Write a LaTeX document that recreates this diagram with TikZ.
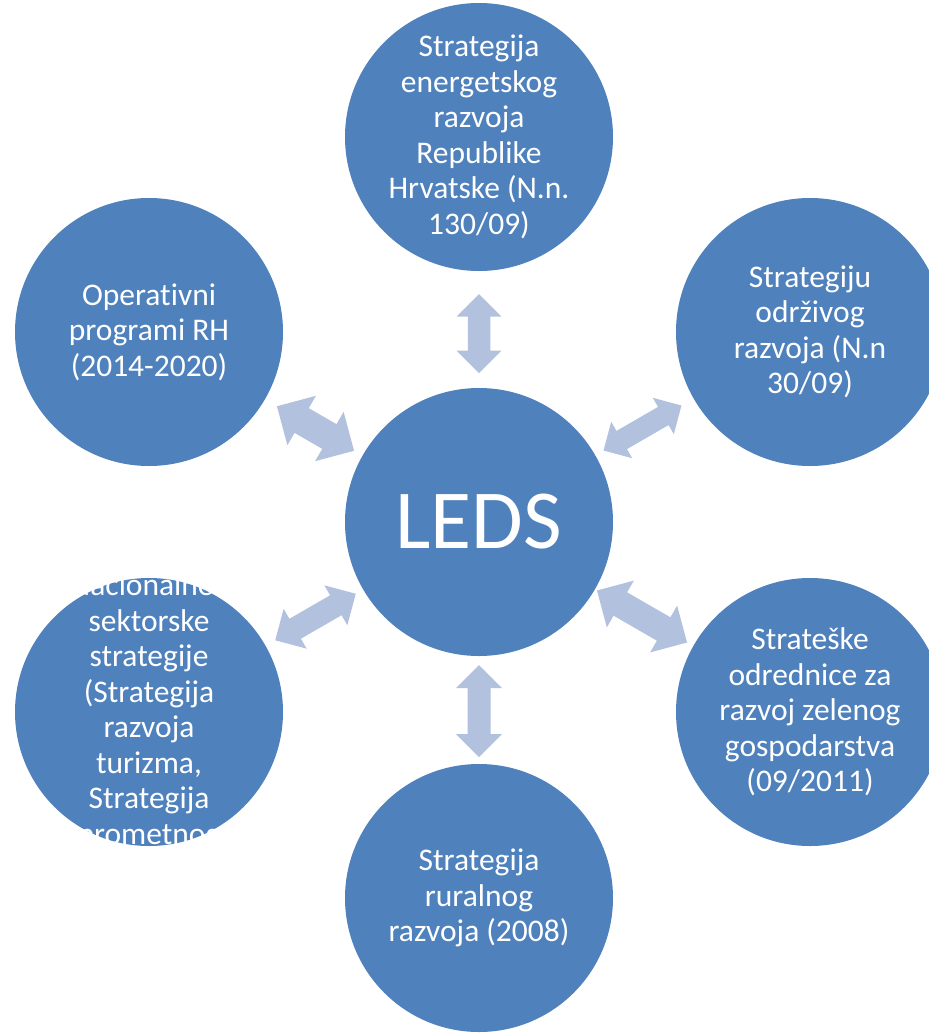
\documentclass[tikz,border=0pt]{standalone}
\usepackage{fontspec}
\setmainfont{Carlito}[Ligatures=NoCommon]
\definecolor{bubblefill}{HTML}{4F81BD}
\definecolor{arrowfill}{HTML}{B2C1DE}
\tikzset{
  bubble/.style={circle, fill=bubblefill, draw=none, minimum size=268pt, inner sep=0pt},
  lbl/.style={text=white, align=center, inner sep=0pt, font=\fontsize{31.5}{35.5}\selectfont},
  bigl/.style={text=white, inner sep=0pt, font=\fontsize{84}{90}\selectfont},
  blockarrow/.style={fill=arrowfill, draw=none}
}
% #1 x, #2 y, #3 angle, #4 length, #5 head width
\newcommand\dblarr[5]{%
  \fill[blockarrow, shift={(#1,#2)}, rotate=#3]
    ({-#4/2},0) -- ({-#4/2+#5/2},{#5/2}) -- ({-#4/2+#5/2},{#5/4})
    -- ({#4/2-#5/2},{#5/4}) -- ({#4/2-#5/2},{#5/2}) -- ({#4/2},0)
    -- ({#4/2-#5/2},{-#5/2}) -- ({#4/2-#5/2},{-#5/4})
    -- ({-#4/2+#5/2},{-#5/4}) -- ({-#4/2+#5/2},{-#5/2}) -- cycle;}
\begin{document}
\begin{tikzpicture}[x=1pt, y=-1pt]
\useasboundingbox (0,0) rectangle (929,1034);
\clip (0,0) rectangle (929,1034);
\fill[white] (0,0) rectangle (929,1034);

% circles
\node[bubble] (top) at (479,137) {};
\node[bubble] (rt) at (810,332) {};
\node[bubble] (rb) at (810,712) {};
\node[bubble] (bot) at (479,898) {};
\node[bubble] (lb) at (149,712) {};
\node[bubble] (lt) at (149,332) {};
\node[bubble] (leds) at (479,522) {};

% labels
\node[lbl] (top-t) at (top) {Strategija\\energetskog\\razvoja\\Republike\\Hrvatske (N.n.\\130/09)};
\node[lbl] (rt-t) at (rt) {Strategiju\\održivog\\razvoja (N.n\\30/09)};
\node[lbl] (rb-t) at (rb) {Strateške\\odrednice za\\razvoj zelenog\\gospodarstva\\(09/2011)};
\node[lbl] (bot-t) at (bot) {Strategija\\ruralnog\\razvoja (2008)};
\node[lbl] (lb-t) at (lb) {Nacionalne i\\sektorske\\strategije\\(Strategija\\razvoja\\turizma,\\Strategija\\prometnog};
\node[lbl] (lt-t) at (lt) {Operativni\\programi RH\\(2014-2020)};
\node[bigl] (leds-t) at (leds) {LEDS};

% block arrows
\dblarr{479}{333.5}{90}{79}{45}
\dblarr{479}{711}{90}{92}{46}
\dblarr{642.5}{428}{30}{90}{42}
\dblarr{642}{616.5}{-30}{104}{54}
\dblarr{315.5}{428.5}{-30}{89}{57}
\dblarr{315.5}{617}{30}{93}{46}
\end{tikzpicture}
\end{document}
